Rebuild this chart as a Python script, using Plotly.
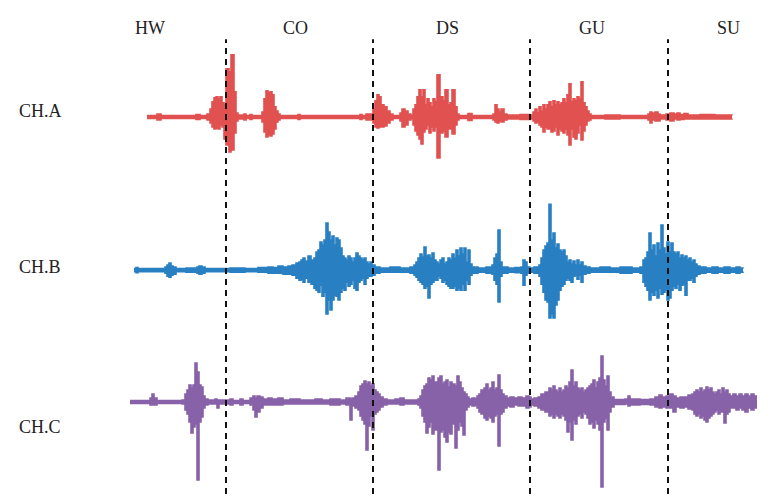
import plotly.graph_objects as go

# ---------------- data ----------------
phase_labels = ["HW", "CO", "DS", "GU", "SU"]
phase_centers = [150, 295, 447, 592, 728]
boundaries = [226, 373, 530, 668]
channel_names = ["CH.A", "CH.B", "CH.C"]

# CH.A : time, upper and lower envelope amplitude
a_t = [147, 157, 161, 196, 200, 207, 210, 212, 214, 216, 218, 220, 222, 224, 226, 229, 231, 234, 236, 238,
       244, 246, 250, 252, 262, 264, 266, 268, 270, 272, 274, 276, 278, 280, 298, 300, 360, 362, 366, 370,
       373, 375, 377, 379, 381, 384, 387, 390, 393, 400, 402, 405, 408, 411, 413, 415, 417, 419, 421, 423,
       425, 427, 429, 431, 433, 435, 437, 440, 443, 445, 448, 450, 452, 455, 457, 459, 468, 472, 493, 495,
       497, 499, 501, 504, 507, 520, 530, 533, 535, 537, 539, 541, 543, 545, 547, 549, 551, 553, 555, 557,
       559, 561, 563, 565, 567, 569, 571, 573, 575, 577, 579, 581, 583, 585, 587, 589, 591, 605, 620, 648,
       650, 652, 655, 658, 660, 666, 670, 674, 677, 680, 684, 688, 700, 715, 732]
a_up = [1.5, 3, 1.5, 2.5, 1.5, 3, 8, 15, 19, 20, 18, 20, 14, 12, 48, 45, 62, 25, 4, 2,
        3, 1.5, 2.5, 1.5, 5, 18, 26, 24, 25, 22, 10, 6, 3, 1.5, 2.5, 1.5, 2.5, 1.5, 3, 3,
        8, 16, 22, 20, 12, 10, 6, 3, 1.5, 4, 8, 6, 3, 1.5, 8, 12, 20, 27, 20, 27,
        12, 18, 14, 10, 18, 15, 42, 20, 16, 27, 12, 14, 27, 10, 3, 1.5, 3.5, 1.5, 3, 12,
        8, 5, 8, 3, 2, 2.5, 2, 5, 8, 4, 10, 6, 12, 8, 12, 15, 10, 16, 12, 15,
        12, 14, 18, 14, 22, 33, 15, 18, 16, 20, 18, 35, 14, 10, 6, 3, 1.5, 2, 1.5, 3,
        5, 4, 5, 3, 2, 3, 4, 3, 4, 2.5, 3.5, 2, 2.5, 2, 1.5]
a_dn = [-1.5, -3, -1.5, -2.5, -1.5, -3, -6, -10, -12, -11, -12, -8, -10, -22, -28, -35, -33, -16, -4, -2,
        -3, -1.5, -2.5, -1.5, -5, -15, -20, -18, -19, -17, -12, -5, -3, -1.5, -2.5, -1.5, -2.5, -1.5, -3, -3,
        -6, -10, -11, -10, -10, -9, -6, -3, -1.5, -4, -10, -8, -3, -1.5, -8, -14, -18, -22, -27, -15,
        -12, -8, -16, -10, -14, -10, -41, -16, -14, -20, -12, -12, -17, -8, -3, -1.5, -3.5, -1.5, -3, -5,
        -6, -4, -5, -3, -2, -2.5, -2, -4, -6, -5, -8, -10, -15, -10, -12, -12, -15, -14, -10, -18,
        -12, -14, -16, -12, -18, -28, -12, -20, -22, -16, -8, -23, -14, -8, -4, -3, -1.5, -2, -1.5, -3,
        -6, -3, -4, -4, -2, -3, -4, -2, -3, -2.5, -2, -2, -2, -2, -1.5]

# CH.B
b_t = [134, 136, 138, 165, 167, 169, 171, 173, 176, 186, 197, 199, 202, 205, 230, 245, 258, 268, 273, 278,
       283, 288, 292, 296, 299, 301, 303, 305, 308, 311, 314, 316, 318, 320, 322, 324, 326, 328, 330, 332,
       334, 336, 338, 340, 342, 344, 346, 348, 350, 352, 354, 356, 358, 360, 362, 364, 366, 368, 370, 372,
       375, 380, 390, 400, 410, 414, 416, 418, 420, 422, 424, 426, 428, 430, 432, 434, 436, 438, 440, 442,
       444, 446, 448, 450, 452, 454, 456, 458, 460, 462, 464, 466, 468, 470, 472, 478, 486, 492, 494, 496,
       498, 500, 502, 508, 515, 521, 523, 525, 527, 530, 534, 539, 541, 543, 545, 547, 549, 551, 553, 555,
       557, 559, 561, 563, 565, 567, 569, 571, 573, 575, 577, 579, 581, 583, 586, 590, 600, 610, 620, 632,
       640, 643, 645, 647, 649, 651, 653, 655, 657, 659, 661, 663, 665, 667, 669, 671, 673, 675, 677, 679,
       681, 683, 685, 687, 689, 691, 693, 695, 697, 700, 706, 712, 718, 724, 730, 736, 740, 743]
b_up = [1.5, 2.5, 1.5, 3, 5, 7, 4, 3, 1.5, 2, 3, 4, 3, 1.5, 2, 1.5, 2.5, 3, 2.5, 4,
        3, 4, 5, 7, 8, 10, 12, 9, 14, 10, 12, 18, 20, 28, 25, 30, 47, 38, 30, 34,
        25, 32, 30, 22, 14, 12, 10, 14, 12, 8, 12, 17, 14, 12, 10, 12, 8, 6, 8, 5,
        3, 2, 3, 2, 3, 5, 8, 12, 16, 13, 23, 14, 15, 12, 17, 10, 8, 6, 10, 12,
        6, 8, 12, 10, 16, 12, 20, 14, 22, 16, 22, 8, 20, 6, 3, 2, 3, 5, 12, 16,
        40, 8, 3, 2, 2.5, 3, 10, 8, 3, 2, 3, 5, 12, 20, 24, 27, 66, 30, 37, 22,
        26, 20, 18, 20, 14, 8, 10, 6, 9, 5, 10, 5, 8, 4, 3, 2, 3, 2, 3, 2,
        3, 10, 12, 18, 37, 20, 25, 14, 27, 20, 45, 22, 16, 28, 18, 27, 18, 16, 18, 12,
        15, 12, 14, 10, 12, 8, 10, 6, 4, 3, 2, 3, 2, 3, 2, 3, 2, 1.5]
b_dn = [-1.5, -2.5, -1.5, -3, -6, -7, -5, -4, -1.5, -2, -3, -4, -3, -1.5, -2, -1.5, -2, -3, -3, -3,
        -4, -4, -5, -8, -10, -9, -12, -8, -12, -14, -18, -20, -22, -15, -26, -22, -44, -30, -40, -30,
        -25, -26, -30, -22, -18, -20, -12, -16, -14, -10, -18, -20, -12, -10, -8, -14, -8, -6, -6, -5,
        -3, -2, -2, -2, -3, -5, -7, -10, -12, -14, -18, -16, -28, -14, -12, -10, -10, -6, -8, -12,
        -10, -14, -16, -18, -18, -16, -20, -18, -20, -14, -20, -10, -14, -5, -3, -2, -3, -4, -10, -14,
        -32, -6, -3, -2, -2.5, -3, -15, -5, -3, -2, -3, -6, -14, -22, -30, -32, -48, -44, -48, -35,
        -30, -20, -16, -14, -10, -8, -10, -12, -6, -5, -9, -5, -12, -4, -3, -2, -2, -2, -3, -2,
        -3, -12, -16, -20, -30, -22, -25, -20, -28, -18, -24, -22, -20, -30, -28, -20, -16, -18, -14, -20,
        -15, -14, -25, -10, -10, -8, -12, -6, -4, -3, -2, -3, -2, -3, -2, -3, -2, -1.5]

# CH.C
c_t = [130, 150, 152, 154, 157, 182, 185, 187, 189, 191, 193, 195, 197, 199, 201, 203, 205, 208, 215, 217,
       219, 225, 230, 233, 240, 243, 250, 253, 255, 257, 260, 263, 268, 272, 278, 283, 290, 300, 315, 322,
       330, 340, 346, 350, 352, 355, 358, 360, 362, 364, 366, 368, 370, 372, 374, 376, 378, 380, 383, 387,
       395, 400, 404, 418, 420, 422, 424, 426, 428, 430, 432, 434, 436, 438, 440, 442, 444, 446, 448, 450,
       452, 455, 457, 459, 461, 463, 465, 467, 469, 472, 475, 477, 479, 481, 484, 486, 488, 490, 492, 494,
       496, 498, 500, 502, 504, 507, 510, 514, 518, 522, 526, 529, 531, 534, 538, 541, 545, 549, 551, 553,
       555, 557, 559, 561, 563, 565, 567, 569, 571, 573, 575, 577, 579, 581, 583, 585, 587, 589, 591, 593,
       595, 597, 599, 601, 603, 605, 607, 609, 611, 614, 625, 628, 630, 640, 650, 655, 659, 662, 666, 670,
       673, 676, 680, 684, 688, 692, 694, 696, 698, 700, 702, 704, 706, 708, 710, 712, 714, 716, 718, 720,
       722, 724, 726, 728, 730, 733, 736, 739, 742, 745, 748, 751, 754, 757]
c_up = [1.5, 4, 8, 4, 1.5, 2, 8, 12, 17, 14, 17, 39, 30, 17, 15, 6, 3, 2, 3, 2,
        2, 2, 3, 1.5, 3, 1.5, 4, 6, 4, 6, 5, 3, 4, 3, 4, 2, 3, 2, 3, 2,
        3, 2, 4, 3, 4, 6, 10, 16, 18, 21, 18, 20, 16, 18, 12, 10, 8, 5, 3, 2,
        3, 4, 2, 3, 6, 12, 16, 18, 24, 22, 26, 20, 20, 24, 26, 18, 20, 22, 15, 20,
        18, 16, 26, 20, 14, 10, 8, 5, 3, 4, 3, 6, 8, 12, 14, 18, 12, 14, 20, 12,
        14, 27, 12, 8, 6, 4, 5, 4, 5, 4, 6, 5, 3, 4, 5, 8, 10, 14, 12, 16,
        12, 10, 14, 10, 12, 16, 14, 20, 32, 16, 20, 14, 12, 14, 10, 12, 14, 16, 18, 22,
        14, 20, 24, 46, 22, 16, 26, 10, 5, 2.5, 3, 6, 3, 2.5, 3, 5, 7, 5, 6, 8,
        6, 4, 5, 5, 7, 8, 10, 12, 10, 14, 10, 12, 15, 12, 14, 10, 8, 10, 12, 8,
        14, 10, 12, 8, 6, 8, 6, 8, 6, 8, 6, 8, 6, 6]
c_dn = [-1.5, -3, -3, -3, -1.5, -2, -8, -12, -20, -31, -25, -22, -78, -20, -15, -6, -3, -2, -2, -6,
        -2, -2, -3, -1.5, -3, -1.5, -3, -8, -15, -10, -6, -3, -3, -3, -3, -2, -2, -2, -2, -2,
        -3, -2, -3, -18, -4, -6, -8, -14, -18, -22, -48, -24, -14, -28, -12, -10, -8, -5, -3, -2,
        -2, -3, -2, -3, -6, -14, -20, -31, -25, -20, -32, -28, -28, -68, -30, -28, -35, -40, -30, -32,
        -22, -46, -28, -20, -24, -33, -8, -5, -3, -4, -3, -6, -10, -12, -16, -18, -14, -16, -20, -14,
        -12, -44, -12, -10, -6, -4, -5, -3, -4, -4, -6, -5, -3, -4, -6, -8, -10, -14, -12, -16,
        -12, -14, -16, -12, -14, -18, -30, -20, -38, -18, -22, -14, -12, -16, -10, -12, -16, -22, -20, -26,
        -18, -22, -28, -85, -20, -16, -28, -10, -5, -2.5, -2, -4, -3, -2.5, -3, -5, -6, -5, -6, -6,
        -10, -5, -6, -5, -7, -8, -12, -14, -12, -16, -14, -18, -20, -16, -14, -12, -10, -8, -12, -10,
        -10, -21, -12, -10, -6, -6, -8, -6, -8, -10, -6, -8, -6, -6]

# ---------------- figure ----------------
colors = ["#E05150", "#2880C3", "#8862A8"]
series = [(a_t, a_up, a_dn), (b_t, b_up, b_dn), (c_t, c_up, c_dn)]
yaxes = ["y", "y2", "y3"]

fig = go.Figure()
for (t, up, dn), col, ya in zip(series, colors, yaxes):
    fig.add_trace(go.Scatter(x=t, y=up, mode="lines", line=dict(color=col, width=1.6, shape="hv"),
                             yaxis=ya, hoverinfo="skip", showlegend=False))
    fig.add_trace(go.Scatter(x=t, y=dn, mode="lines", line=dict(color=col, width=1.6, shape="hv"),
                             fill="tonexty", fillcolor=col, yaxis=ya, hoverinfo="skip", showlegend=False))

for b in boundaries:
    fig.add_shape(type="line", xref="x", yref="paper", x0=b, x1=b, y0=0.018, y1=0.922,
                  line=dict(color="#111111", width=2, dash="6px,5px"))

font = dict(family="Liberation Serif, Times New Roman, serif", size=18, color="#222222")
for lab, xc in zip(phase_labels, phase_centers):
    fig.add_annotation(x=xc, xref="x", y=0.944, yref="paper", xanchor="center", yanchor="middle",
                       text=lab, showarrow=False, font=font)

label_offsets = [6, 3, -25]
for name, ya_ref, off in zip(channel_names, yaxes, label_offsets):
    fig.add_annotation(x=40, xref="x", y=off, yref=ya_ref, xanchor="center", yanchor="middle",
                       text=name, showarrow=False, font=font)

axis_off = dict(visible=False, showgrid=False, zeroline=False, fixedrange=True)
fig.update_layout(
    width=772, height=503,
    margin=dict(l=0, r=0, t=0, b=0),
    paper_bgcolor="white", plot_bgcolor="white",
    xaxis=dict(range=[0, 772], **axis_off),
    yaxis=dict(range=[-70, 70], domain=[0.628, 0.907], **axis_off),
    yaxis2=dict(range=[-70, 70], domain=[0.324, 0.602], **axis_off),
    yaxis3=dict(range=[-95, 55], domain=[0.012, 0.310], **axis_off),
)

fig.write_html("out.html", config={"displayModeBar": False},
               post_script="document.body.style.margin='0';document.body.style.overflow='hidden';")
